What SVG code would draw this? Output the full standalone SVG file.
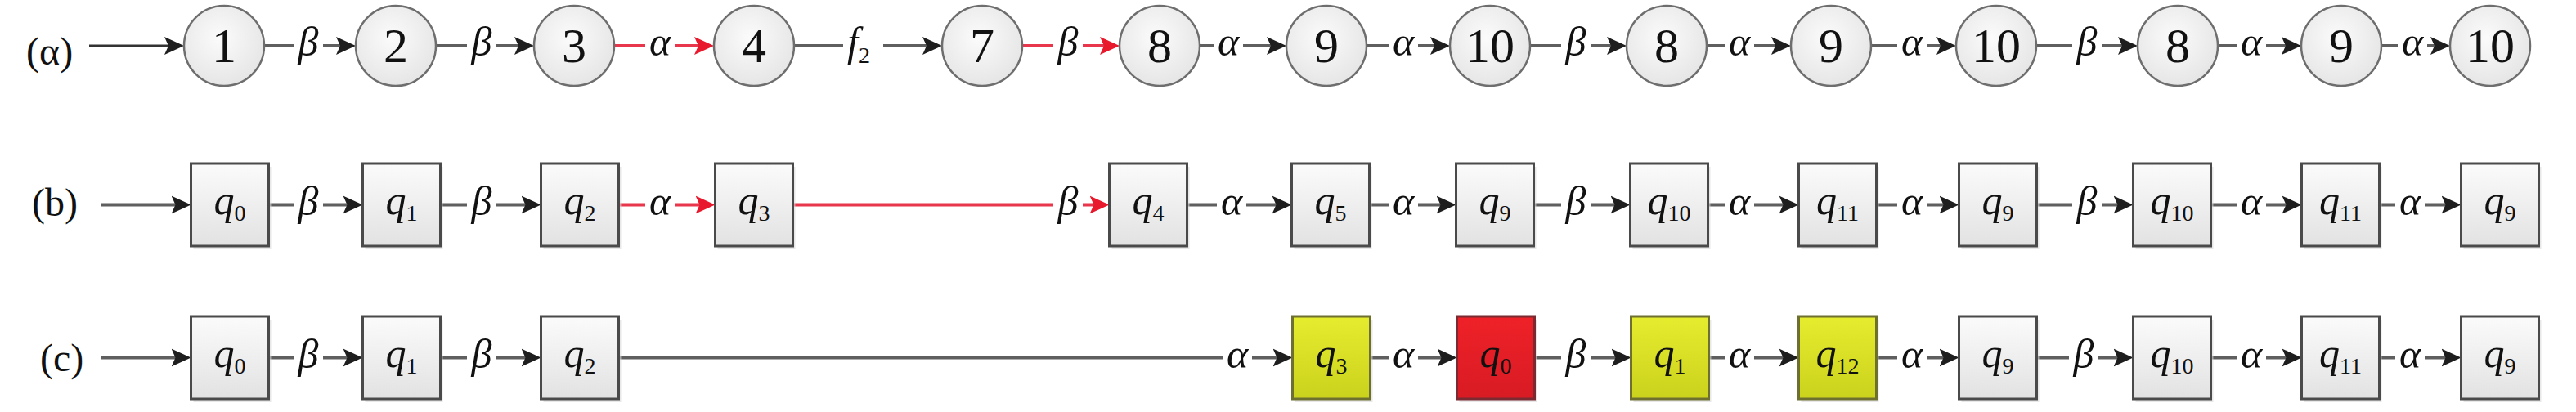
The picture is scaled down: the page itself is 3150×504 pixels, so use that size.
<svg xmlns="http://www.w3.org/2000/svg" width="3150" height="504" viewBox="0 0 3150 504">
<style>
.lbl{font-family:"Liberation Serif","Times New Roman",serif;font-style:italic;font-size:50px;fill:#111;text-anchor:middle}
.sub{font-style:normal;font-size:28px}
.num{font-family:"Liberation Serif","Times New Roman",serif;font-size:60px;fill:#111;text-anchor:middle}
.row{font-family:"Liberation Serif","Times New Roman",serif;font-size:48px;fill:#111}
.g{stroke:#5f5f5f;stroke-width:4;fill:none}
.r{stroke:#e8374d;stroke-width:4;fill:none}
.s{stroke:#333;stroke-width:3;fill:none}
.circ{fill:url(#gc);stroke:#6e6e6e;stroke-width:2.5}
.box{fill:url(#gb);stroke:#4a4a4a;stroke-width:3}
.yel{fill:url(#gy);stroke:#6e7030;stroke-width:3}
.red{fill:url(#gr);stroke:#7a2a30;stroke-width:3}
.sh{fill:#d9d9d9;opacity:0.6}
</style>
<defs>
<radialGradient id="gc" cx="0.45" cy="0.4" r="0.65"><stop offset="0" stop-color="#fbfbfb"/><stop offset="1" stop-color="#e4e4e4"/></radialGradient>
<linearGradient id="gb" x1="0" y1="0" x2="0" y2="1"><stop offset="0" stop-color="#fbfbfb"/><stop offset="1" stop-color="#e2e2e2"/></linearGradient>
<linearGradient id="gy" x1="0" y1="0" x2="0" y2="1"><stop offset="0" stop-color="#e6ec2e"/><stop offset="1" stop-color="#cbd21c"/></linearGradient>
<linearGradient id="gr" x1="0" y1="0" x2="0" y2="1"><stop offset="0" stop-color="#ef2128"/><stop offset="1" stop-color="#d81b24"/></linearGradient>
<marker id="ak" markerUnits="userSpaceOnUse" markerWidth="26" markerHeight="24" refX="13" refY="12" orient="auto"><path d="M0,1 L24,12 L0,23 L5,12 z" fill="#1e1e1e"/></marker>
<marker id="ar" markerUnits="userSpaceOnUse" markerWidth="26" markerHeight="24" refX="13" refY="12" orient="auto"><path d="M0,1 L24,12 L0,23 L5,12 z" fill="#e8192c"/></marker>
</defs>

<g id="row-labels">
<text class="row" x="32" y="79">(α)</text>
<text class="row" x="39" y="264">(b)</text>
<text class="row" x="49" y="454">(c)</text>
</g>

<g id="connectors">
<!-- row alpha, y=56 -->
<line class="s" x1="109" y1="56" x2="214" y2="56" marker-end="url(#ak)"/>
<line class="g" x1="323" y1="56" x2="359" y2="56"/><text class="lbl" x="377" y="68">β</text><line class="g" x1="395" y1="56" x2="424" y2="56" marker-end="url(#ak)"/>
<line class="g" x1="533" y1="56" x2="571" y2="56"/><text class="lbl" x="589" y="68">β</text><line class="g" x1="607" y1="56" x2="642" y2="56" marker-end="url(#ak)"/>
<line class="r" x1="751" y1="56" x2="789" y2="56"/><text class="lbl" x="807" y="68">α</text><line class="r" x1="825" y1="56" x2="862" y2="56" marker-end="url(#ar)"/>
<line class="g" x1="971" y1="56" x2="1031" y2="56"/><text class="lbl" x="1050" y="68">f<tspan class="sub" dy="9">2</tspan></text><line class="g" x1="1080" y1="56" x2="1141" y2="56" marker-end="url(#ak)"/>
<line class="r" x1="1250" y1="56" x2="1288" y2="56"/><text class="lbl" x="1306" y="68">β</text><line class="r" x1="1324" y1="56" x2="1358" y2="56" marker-end="url(#ar)"/>
<line class="g" x1="1467" y1="56" x2="1484" y2="56"/><text class="lbl" x="1502" y="68">α</text><line class="g" x1="1520" y1="56" x2="1562" y2="56" marker-end="url(#ak)"/>
<line class="g" x1="1671" y1="56" x2="1698" y2="56"/><text class="lbl" x="1716" y="68">α</text><line class="g" x1="1734" y1="56" x2="1762" y2="56" marker-end="url(#ak)"/>
<line class="g" x1="1871" y1="56" x2="1909" y2="56"/><text class="lbl" x="1927" y="68">β</text><line class="g" x1="1945" y1="56" x2="1978" y2="56" marker-end="url(#ak)"/>
<line class="g" x1="2087" y1="56" x2="2109" y2="56"/><text class="lbl" x="2127" y="68">α</text><line class="g" x1="2145" y1="56" x2="2179" y2="56" marker-end="url(#ak)"/>
<line class="g" x1="2288" y1="56" x2="2320" y2="56"/><text class="lbl" x="2338" y="68">α</text><line class="g" x1="2356" y1="56" x2="2381" y2="56" marker-end="url(#ak)"/>
<line class="g" x1="2490" y1="56" x2="2534" y2="56"/><text class="lbl" x="2552" y="68">β</text><line class="g" x1="2570" y1="56" x2="2603" y2="56" marker-end="url(#ak)"/>
<line class="g" x1="2712" y1="56" x2="2735" y2="56"/><text class="lbl" x="2753" y="68">α</text><line class="g" x1="2771" y1="56" x2="2803" y2="56" marker-end="url(#ak)"/>
<line class="g" x1="2912" y1="56" x2="2932" y2="56"/><text class="lbl" x="2950" y="68">α</text><line class="g" x1="2968" y1="56" x2="2985" y2="56" marker-end="url(#ak)"/>

<!-- row b, y=250.5 -->
<line class="g" x1="123" y1="250.5" x2="222.5" y2="250.5" marker-end="url(#ak)"/>
<line class="g" x1="328.5" y1="250.5" x2="359" y2="250.5"/><text class="lbl" x="377" y="262.5">β</text><line class="g" x1="395" y1="250.5" x2="432.5" y2="250.5" marker-end="url(#ak)"/>
<line class="g" x1="538.5" y1="250.5" x2="571" y2="250.5"/><text class="lbl" x="589" y="262.5">β</text><line class="g" x1="607" y1="250.5" x2="650.5" y2="250.5" marker-end="url(#ak)"/>
<line class="r" x1="756.5" y1="250.5" x2="789" y2="250.5"/><text class="lbl" x="807" y="262.5">α</text><line class="r" x1="825" y1="250.5" x2="863.5" y2="250.5" marker-end="url(#ar)"/>
<line class="r" x1="969.5" y1="250.5" x2="1288" y2="250.5"/><text class="lbl" x="1306" y="262.5">β</text><line class="r" x1="1324" y1="250.5" x2="1345.5" y2="250.5" marker-end="url(#ar)"/>
<line class="g" x1="1451.5" y1="250.5" x2="1488" y2="250.5"/><text class="lbl" x="1506" y="262.5">α</text><line class="g" x1="1524" y1="250.5" x2="1568.5" y2="250.5" marker-end="url(#ak)"/>
<line class="g" x1="1674.5" y1="250.5" x2="1698" y2="250.5"/><text class="lbl" x="1716" y="262.5">α</text><line class="g" x1="1734" y1="250.5" x2="1769.5" y2="250.5" marker-end="url(#ak)"/>
<line class="g" x1="1875.5" y1="250.5" x2="1909" y2="250.5"/><text class="lbl" x="1927" y="262.5">β</text><line class="g" x1="1945" y1="250.5" x2="1982.5" y2="250.5" marker-end="url(#ak)"/>
<line class="g" x1="2088.5" y1="250.5" x2="2109" y2="250.5"/><text class="lbl" x="2127" y="262.5">α</text><line class="g" x1="2145" y1="250.5" x2="2188.5" y2="250.5" marker-end="url(#ak)"/>
<line class="g" x1="2294.5" y1="250.5" x2="2320" y2="250.5"/><text class="lbl" x="2338" y="262.5">α</text><line class="g" x1="2356" y1="250.5" x2="2384.5" y2="250.5" marker-end="url(#ak)"/>
<line class="g" x1="2490.5" y1="250.5" x2="2534" y2="250.5"/><text class="lbl" x="2552" y="262.5">β</text><line class="g" x1="2570" y1="250.5" x2="2597.5" y2="250.5" marker-end="url(#ak)"/>
<line class="g" x1="2703.5" y1="250.5" x2="2735" y2="250.5"/><text class="lbl" x="2753" y="262.5">α</text><line class="g" x1="2771" y1="250.5" x2="2803.5" y2="250.5" marker-end="url(#ak)"/>
<line class="g" x1="2909.5" y1="250.5" x2="2929" y2="250.5"/><text class="lbl" x="2947" y="262.5">α</text><line class="g" x1="2965" y1="250.5" x2="2998.5" y2="250.5" marker-end="url(#ak)"/>

<!-- row c, y=437.5 -->
<line class="g" x1="123" y1="437.5" x2="222.5" y2="437.5" marker-end="url(#ak)"/>
<line class="g" x1="328.5" y1="437.5" x2="359" y2="437.5"/><text class="lbl" x="377" y="449.5">β</text><line class="g" x1="395" y1="437.5" x2="432.5" y2="437.5" marker-end="url(#ak)"/>
<line class="g" x1="538.5" y1="437.5" x2="571" y2="437.5"/><text class="lbl" x="589" y="449.5">β</text><line class="g" x1="607" y1="437.5" x2="650.5" y2="437.5" marker-end="url(#ak)"/>
<line class="g" x1="756.5" y1="437.5" x2="1495" y2="437.5"/><text class="lbl" x="1513" y="449.5">α</text><line class="g" x1="1531" y1="437.5" x2="1569.5" y2="437.5" marker-end="url(#ak)"/>
<line class="g" x1="1675.5" y1="437.5" x2="1698" y2="437.5"/><text class="lbl" x="1716" y="449.5">α</text><line class="g" x1="1734" y1="437.5" x2="1770.5" y2="437.5" marker-end="url(#ak)"/>
<line class="g" x1="1876.5" y1="437.5" x2="1909" y2="437.5"/><text class="lbl" x="1927" y="449.5">β</text><line class="g" x1="1945" y1="437.5" x2="1983.5" y2="437.5" marker-end="url(#ak)"/>
<line class="g" x1="2089.5" y1="437.5" x2="2109" y2="437.5"/><text class="lbl" x="2127" y="449.5">α</text><line class="g" x1="2145" y1="437.5" x2="2188.5" y2="437.5" marker-end="url(#ak)"/>
<line class="g" x1="2294.5" y1="437.5" x2="2320" y2="437.5"/><text class="lbl" x="2338" y="449.5">α</text><line class="g" x1="2356" y1="437.5" x2="2384.5" y2="437.5" marker-end="url(#ak)"/>
<line class="g" x1="2490.5" y1="437.5" x2="2530" y2="437.5"/><text class="lbl" x="2548" y="449.5">β</text><line class="g" x1="2566" y1="437.5" x2="2597.5" y2="437.5" marker-end="url(#ak)"/>
<line class="g" x1="2703.5" y1="437.5" x2="2735" y2="437.5"/><text class="lbl" x="2753" y="449.5">α</text><line class="g" x1="2771" y1="437.5" x2="2803.5" y2="437.5" marker-end="url(#ak)"/>
<line class="g" x1="2909.5" y1="437.5" x2="2929" y2="437.5"/><text class="lbl" x="2947" y="449.5">α</text><line class="g" x1="2965" y1="437.5" x2="2998.5" y2="437.5" marker-end="url(#ak)"/>
</g>

<!-- row alpha nodes -->
<g id="a1"><circle class="circ" cx="274" cy="56" r="49"/><text class="num" x="274" y="76">1</text></g>
<g id="a2"><circle class="circ" cx="484" cy="56" r="49"/><text class="num" x="484" y="76">2</text></g>
<g id="a3"><circle class="circ" cx="702" cy="56" r="49"/><text class="num" x="702" y="76">3</text></g>
<g id="a4"><circle class="circ" cx="922" cy="56" r="49"/><text class="num" x="922" y="76">4</text></g>
<g id="a7"><circle class="circ" cx="1201" cy="56" r="49"/><text class="num" x="1201" y="76">7</text></g>
<g id="a8"><circle class="circ" cx="1418" cy="56" r="49"/><text class="num" x="1418" y="76">8</text></g>
<g id="a9"><circle class="circ" cx="1622" cy="56" r="49"/><text class="num" x="1622" y="76">9</text></g>
<g id="a10"><circle class="circ" cx="1822" cy="56" r="49"/><text class="num" x="1822" y="76">10</text></g>
<g id="a8b"><circle class="circ" cx="2038" cy="56" r="49"/><text class="num" x="2038" y="76">8</text></g>
<g id="a9b"><circle class="circ" cx="2239" cy="56" r="49"/><text class="num" x="2239" y="76">9</text></g>
<g id="a10b"><circle class="circ" cx="2441" cy="56" r="49"/><text class="num" x="2441" y="76">10</text></g>
<g id="a8c"><circle class="circ" cx="2663" cy="56" r="49"/><text class="num" x="2663" y="76">8</text></g>
<g id="a9c"><circle class="circ" cx="2863" cy="56" r="49"/><text class="num" x="2863" y="76">9</text></g>
<g id="a10c"><circle class="circ" cx="3045" cy="56" r="49"/><text class="num" x="3045" y="76">10</text></g>

<!-- row b nodes -->
<g id="b-q0"><rect class="sh" x="236.5" y="204" width="95" height="101"/><rect class="box" x="233.5" y="200" width="95" height="101"/><text class="lbl" x="281" y="262">q<tspan class="sub" dy="8">0</tspan></text></g>
<g id="b-q1"><rect class="sh" x="446.5" y="204" width="95" height="101"/><rect class="box" x="443.5" y="200" width="95" height="101"/><text class="lbl" x="491" y="262">q<tspan class="sub" dy="8">1</tspan></text></g>
<g id="b-q2"><rect class="sh" x="664.5" y="204" width="95" height="101"/><rect class="box" x="661.5" y="200" width="95" height="101"/><text class="lbl" x="709" y="262">q<tspan class="sub" dy="8">2</tspan></text></g>
<g id="b-q3"><rect class="sh" x="877.5" y="204" width="95" height="101"/><rect class="box" x="874.5" y="200" width="95" height="101"/><text class="lbl" x="922" y="262">q<tspan class="sub" dy="8">3</tspan></text></g>
<g id="b-q4"><rect class="sh" x="1359.5" y="204" width="95" height="101"/><rect class="box" x="1356.5" y="200" width="95" height="101"/><text class="lbl" x="1404" y="262">q<tspan class="sub" dy="8">4</tspan></text></g>
<g id="b-q5"><rect class="sh" x="1582.5" y="204" width="95" height="101"/><rect class="box" x="1579.5" y="200" width="95" height="101"/><text class="lbl" x="1627" y="262">q<tspan class="sub" dy="8">5</tspan></text></g>
<g id="b-q9"><rect class="sh" x="1783.5" y="204" width="95" height="101"/><rect class="box" x="1780.5" y="200" width="95" height="101"/><text class="lbl" x="1828" y="262">q<tspan class="sub" dy="8">9</tspan></text></g>
<g id="b-q10"><rect class="sh" x="1996.5" y="204" width="95" height="101"/><rect class="box" x="1993.5" y="200" width="95" height="101"/><text class="lbl" x="2041" y="262">q<tspan class="sub" dy="8">10</tspan></text></g>
<g id="b-q11"><rect class="sh" x="2202.5" y="204" width="95" height="101"/><rect class="box" x="2199.5" y="200" width="95" height="101"/><text class="lbl" x="2247" y="262">q<tspan class="sub" dy="8">11</tspan></text></g>
<g id="b-q9b"><rect class="sh" x="2398.5" y="204" width="95" height="101"/><rect class="box" x="2395.5" y="200" width="95" height="101"/><text class="lbl" x="2443" y="262">q<tspan class="sub" dy="8">9</tspan></text></g>
<g id="b-q10b"><rect class="sh" x="2611.5" y="204" width="95" height="101"/><rect class="box" x="2608.5" y="200" width="95" height="101"/><text class="lbl" x="2656" y="262">q<tspan class="sub" dy="8">10</tspan></text></g>
<g id="b-q11b"><rect class="sh" x="2817.5" y="204" width="95" height="101"/><rect class="box" x="2814.5" y="200" width="95" height="101"/><text class="lbl" x="2862" y="262">q<tspan class="sub" dy="8">11</tspan></text></g>
<g id="b-q9c"><rect class="sh" x="3012.5" y="204" width="95" height="101"/><rect class="box" x="3009.5" y="200" width="95" height="101"/><text class="lbl" x="3057" y="262">q<tspan class="sub" dy="8">9</tspan></text></g>

<!-- row c nodes -->
<g id="c-q0"><rect class="sh" x="236.5" y="391" width="95" height="101"/><rect class="box" x="233.5" y="387" width="95" height="101"/><text class="lbl" x="281" y="449">q<tspan class="sub" dy="8">0</tspan></text></g>
<g id="c-q1"><rect class="sh" x="446.5" y="391" width="95" height="101"/><rect class="box" x="443.5" y="387" width="95" height="101"/><text class="lbl" x="491" y="449">q<tspan class="sub" dy="8">1</tspan></text></g>
<g id="c-q2"><rect class="sh" x="664.5" y="391" width="95" height="101"/><rect class="box" x="661.5" y="387" width="95" height="101"/><text class="lbl" x="709" y="449">q<tspan class="sub" dy="8">2</tspan></text></g>
<g id="c-q3"><rect class="sh" x="1583.5" y="391" width="95" height="101"/><rect class="yel" x="1580.5" y="387" width="95" height="101"/><text class="lbl" x="1628" y="449">q<tspan class="sub" dy="8">3</tspan></text></g>
<g id="c-q0r"><rect class="sh" x="1784.5" y="391" width="95" height="101"/><rect class="red" x="1781.5" y="387" width="95" height="101"/><text class="lbl" x="1829" y="449">q<tspan class="sub" dy="8">0</tspan></text></g>
<g id="c-q1y"><rect class="sh" x="1997.5" y="391" width="95" height="101"/><rect class="yel" x="1994.5" y="387" width="95" height="101"/><text class="lbl" x="2042" y="449">q<tspan class="sub" dy="8">1</tspan></text></g>
<g id="c-q12"><rect class="sh" x="2202.5" y="391" width="95" height="101"/><rect class="yel" x="2199.5" y="387" width="95" height="101"/><text class="lbl" x="2247" y="449">q<tspan class="sub" dy="8">12</tspan></text></g>
<g id="c-q9"><rect class="sh" x="2398.5" y="391" width="95" height="101"/><rect class="box" x="2395.5" y="387" width="95" height="101"/><text class="lbl" x="2443" y="449">q<tspan class="sub" dy="8">9</tspan></text></g>
<g id="c-q10"><rect class="sh" x="2611.5" y="391" width="95" height="101"/><rect class="box" x="2608.5" y="387" width="95" height="101"/><text class="lbl" x="2656" y="449">q<tspan class="sub" dy="8">10</tspan></text></g>
<g id="c-q11"><rect class="sh" x="2817.5" y="391" width="95" height="101"/><rect class="box" x="2814.5" y="387" width="95" height="101"/><text class="lbl" x="2862" y="449">q<tspan class="sub" dy="8">11</tspan></text></g>
<g id="c-q9b"><rect class="sh" x="3012.5" y="391" width="95" height="101"/><rect class="box" x="3009.5" y="387" width="95" height="101"/><text class="lbl" x="3057" y="449">q<tspan class="sub" dy="8">9</tspan></text></g>
</svg>
